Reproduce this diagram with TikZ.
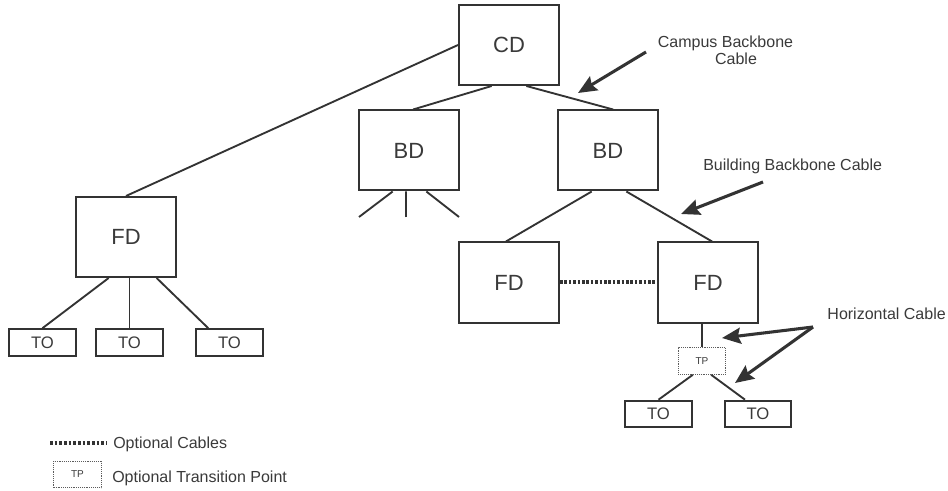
\documentclass[tikz,border=0pt]{standalone}
\usepackage{fontspec}
\setmainfont{Liberation Sans}
\usetikzlibrary{arrows.meta,calc}
\definecolor{ink}{HTML}{333333}
\definecolor{txt}{HTML}{3A3A3A}
\begin{document}
\begin{tikzpicture}[x=0.75pt,y=-0.75pt,
  bigbox/.style={draw=ink,line width=1.5pt,minimum width=75pt,minimum height=60pt,inner sep=0pt,
    text=txt,font=\fontsize{16.5}{18}\selectfont},
  tobox/.style={draw=ink,line width=1.5pt,minimum width=50pt,minimum height=20pt,inner sep=0pt,
    text=txt,font=\fontsize{12.5}{14}\selectfont},
  tpbox/.style={draw=ink!80,line width=0.7pt,dash pattern=on 0.7pt off 0.7pt,minimum width=35.5pt,
    minimum height=20pt,inner sep=0pt,text=txt,font=\fontsize{7.5}{9}\selectfont},
  cable/.style={draw=ink,line width=1.4pt},
  optcable/.style={draw=ink,line width=3pt,dash pattern=on 2pt off 1.3pt},
  pointer/.style={draw=ink,line width=2.3pt,-{Stealth[length=14pt,width=12pt,inset=2pt]}},
  label/.style={text=txt,font=\fontsize{12}{14}\selectfont,inner sep=0pt}]

\useasboundingbox[fill=white] (0,0) rectangle (948,491);

% distributors
\node[bigbox] (CD)  at (509,45)    {CD};
\node[bigbox] (BDl) at (409,150.5) {BD};
\node[bigbox] (BDr) at (608,150.5) {BD};
\node[bigbox] (FDl) at (126,237)   {FD};
\node[bigbox] (FDm) at (509,282.5) {FD};
\node[bigbox] (FDr) at (708,282.5) {FD};

% outlets and transition point
\node[tobox] (TO1) at (42.5,342.5)  {TO};
\node[tobox] (TO2) at (129.5,342.5) {TO};
\node[tobox] (TO3) at (229.5,342.5) {TO};
\node[tpbox] (TP)  at (702,361)     {TP};
\node[tobox] (TO4) at (658.5,414)   {TO};
\node[tobox] (TO5) at (758,414)     {TO};

% campus backbone
\draw[cable] (CD.west) -- (FDl.north);
\draw[cable] ($(CD.south west)!0.33!(CD.south east)$) -- ($(BDl.north west)!0.54!(BDl.north east)$);
\draw[cable] ($(CD.south west)!0.67!(CD.south east)$) -- ($(BDr.north west)!0.55!(BDr.north east)$);

% building backbone
\draw[cable] ($(BDr.south west)!0.34!(BDr.south east)$) -- ($(FDm.north west)!0.47!(FDm.north east)$);
\draw[cable] ($(BDr.south west)!0.68!(BDr.south east)$) -- ($(FDr.north west)!0.54!(FDr.north east)$);
\draw[optcable] (FDm.east) -- (FDr.west);

% open legs below the left BD
\coordinate (legA) at (359,217);
\coordinate (legB) at (406,217);
\coordinate (legC) at (459,217);
\draw[cable] ($(BDl.south west)!0.34!(BDl.south east)$) -- (legA);
\draw[cable] ($(BDl.south west)!0.47!(BDl.south east)$) -- (legB);
\draw[cable] ($(BDl.south west)!0.67!(BDl.south east)$) -- (legC);

% horizontal cabling
\draw[cable] ($(FDl.south west)!0.33!(FDl.south east)$) -- (TO1.north);
\draw[cable] (TO2.north) -- (TO2.north |- FDl.south);
\draw[cable] ($(FDl.south west)!0.8!(FDl.south east)$) -- ($(TO3.north west)!0.19!(TO3.north east)$);
\draw[cable] (TP.north) -- (TP.north |- FDr.south);
\draw[cable] ($(TP.south west)!0.31!(TP.south east)$) -- (TO4.north);
\draw[cable] ($(TP.south west)!0.69!(TP.south east)$) -- ($(TO5.north west)!0.31!(TO5.north east)$);

% labels and pointers
\node[label,anchor=base] (lcamp1) at (725.5,48) {Campus Backbone};
\node[label,anchor=base] (lcamp2) at (736,65) {Cable};
\node[label,anchor=base west] (lbuild) at (703,171) {Building Backbone Cable};
\node[label,anchor=base east] (lhoriz) at (946,319) {Horizontal Cable};

\coordinate (tCamp) at (646,52);
\coordinate (hCamp) at (578,93);
\coordinate (tBuild) at (763,182);
\coordinate (hBuild) at (681,214);
\coordinate (tHoriz) at (813,327);
\coordinate (hHorizA) at (722,338);
\coordinate (hHorizB) at (735,383);
\draw[pointer] (tCamp) -- (hCamp);
\draw[pointer] (tBuild) -- (hBuild);
\draw[pointer] (tHoriz) -- (hHorizA);
\draw[pointer] (tHoriz) -- (hHorizB);

% legend
\coordinate (optA) at (50,443);
\coordinate (optB) at (107,443);
\draw[draw=ink,line width=2.4pt,dash pattern=on 2pt off 1.5pt] (optA) -- (optB);
\node[label,anchor=base west] (lopt) at (113,448) {Optional Cables};
\node[tpbox] (TPkey) at (77.5,474.5) {TP};
\node[label,anchor=base west] (ltp) at (112,482) {Optional Transition Point};
\end{tikzpicture}
\end{document}
